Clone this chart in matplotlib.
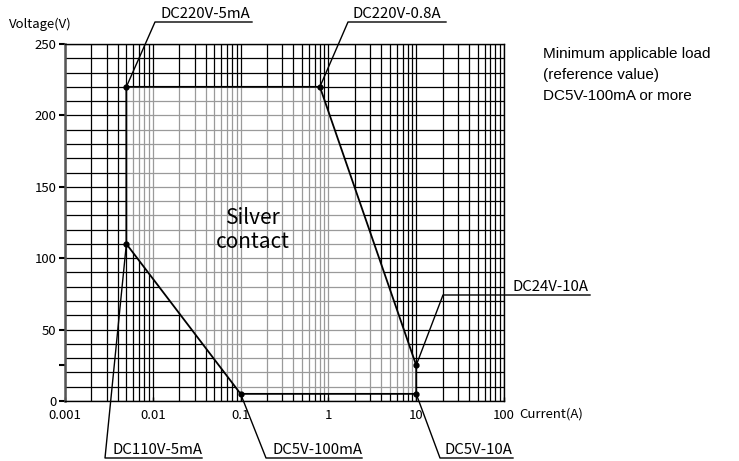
import numpy as np
import matplotlib
matplotlib.use("Agg")
from matplotlib import pyplot as plt
from matplotlib.patches import Polygon
from matplotlib.lines import Line2D

plt.rcParams['font.family'] = ['Noto Sans CJK JP', 'DejaVu Sans']

# region of the silver contact (current A, voltage V)
region_current = [0.005, 0.8, 10, 10, 0.1, 0.005]
region_voltage = [220, 220, 25, 5, 5, 110]

# labelled corner points
point_labels = ["DC220V-5mA", "DC220V-0.8A", "DC24V-10A", "DC110V-5mA", "DC5V-100mA", "DC5V-10A"]
point_current = [0.005, 0.8, 10, 0.005, 0.1, 10]
point_voltage = [220, 220, 25, 110, 5, 5]

x_ticks = [0.001, 0.01, 0.1, 1, 10, 100]
x_tick_labels = ["0.001", "0.01", "0.1", "1", "10", "100"]
y_ticks = [0, 25, 50, 100, 150, 200, 250]
y_tick_labels = ["0", "", "50", "100", "150", "200", "250"]

W, H = 739, 461
fig = plt.figure(figsize=(W / 100, H / 100), dpi=100)
ax = fig.add_axes([65 / W, (H - 401) / H, 439 / W, 357 / H])
ax.set_xscale('log')
ax.set_xlim(0.001, 100)
ax.set_ylim(0, 250)

# grid lines: black outside, grey inside the region
gx = [k * d for d in [0.001, 0.01, 0.1, 1, 10] for k in range(1, 10)] + [100]
gy = np.arange(0, 251, 10)
ax.vlines(gx, 0, 250, colors='black', lw=0.9, zorder=1)
ax.hlines(gy, 0.001, 100, colors='black', lw=0.9, zorder=1)

poly = Polygon(np.column_stack([region_current, region_voltage]), closed=True,
               facecolor='white', edgecolor='none', zorder=2)
ax.add_patch(poly)
vl = ax.vlines(gx, 0, 250, colors='#9a9a9a', lw=0.9, zorder=3)
hl = ax.hlines(gy, 0.001, 100, colors='#9a9a9a', lw=0.9, zorder=3)
vl.set_clip_path(poly)
hl.set_clip_path(poly)
ax.add_patch(Polygon(np.column_stack([region_current, region_voltage]), closed=True,
                     facecolor='none', edgecolor='black', lw=1.3, zorder=4))
ax.plot(point_current, point_voltage, 'o', color='black', ms=3.5, zorder=5)

for s in ['top', 'right', 'bottom']:
    ax.spines[s].set_color('black')
    ax.spines[s].set_linewidth(1.0)
ax.spines['left'].set_color('#555555')
ax.spines['left'].set_linewidth(1.8)

ax.set_xticks(x_ticks)
ax.set_xticklabels(x_tick_labels)
ax.xaxis.set_minor_locator(matplotlib.ticker.NullLocator())
ax.tick_params(axis='x', direction='in', length=3, width=1, labelsize=9.5, pad=6)
ax.set_yticks(y_ticks)
ax.set_yticklabels(y_tick_labels)
ax.tick_params(axis='y', direction='out', length=4, width=1.5, labelsize=9.5, pad=2)

fig.text(9, H - 24, "Voltage(V)", fontsize=9.5, transform=None, va='center', ha='left')
fig.text(519, H - 414, "Current(A)", fontsize=9.5, transform=None, va='center', ha='left')

ax.text(253, H - 230, "Silver\ncontact", fontsize=15, transform=None,
        ha='center', va='center', multialignment='center', linespacing=1.15)

fig.text(543, H - 47, "Minimum applicable load\n(reference value)\nDC5V-100mA or more",
         family='Liberation Sans', fontsize=11, transform=None, va='top', ha='left',
         linespacing=1.65)

# leader lines: elbow and underline end in image pixels, text start
leaders = [
    (155, 22, 252, 160),
    (348, 22, 446, 352),
    (443, 295, 590, 513),
    (105, 458, 202, 112),
    (266, 458, 362, 272),
    (440, 458, 513, 445),
]
for lab, xc, yv, (ex, ey, ux, tx) in zip(point_labels, point_current, point_voltage, leaders):
    px, py = ax.transData.transform((xc, yv))
    fig.add_artist(Line2D([px, ex, ux], [py, H - ey, H - ey], transform=None,
                          color='black', lw=1.0))
    fig.text(tx, H - ey + 1.5, lab, fontsize=10.8, transform=None, ha='left', va='bottom')

fig.savefig("out.png", dpi=100)
